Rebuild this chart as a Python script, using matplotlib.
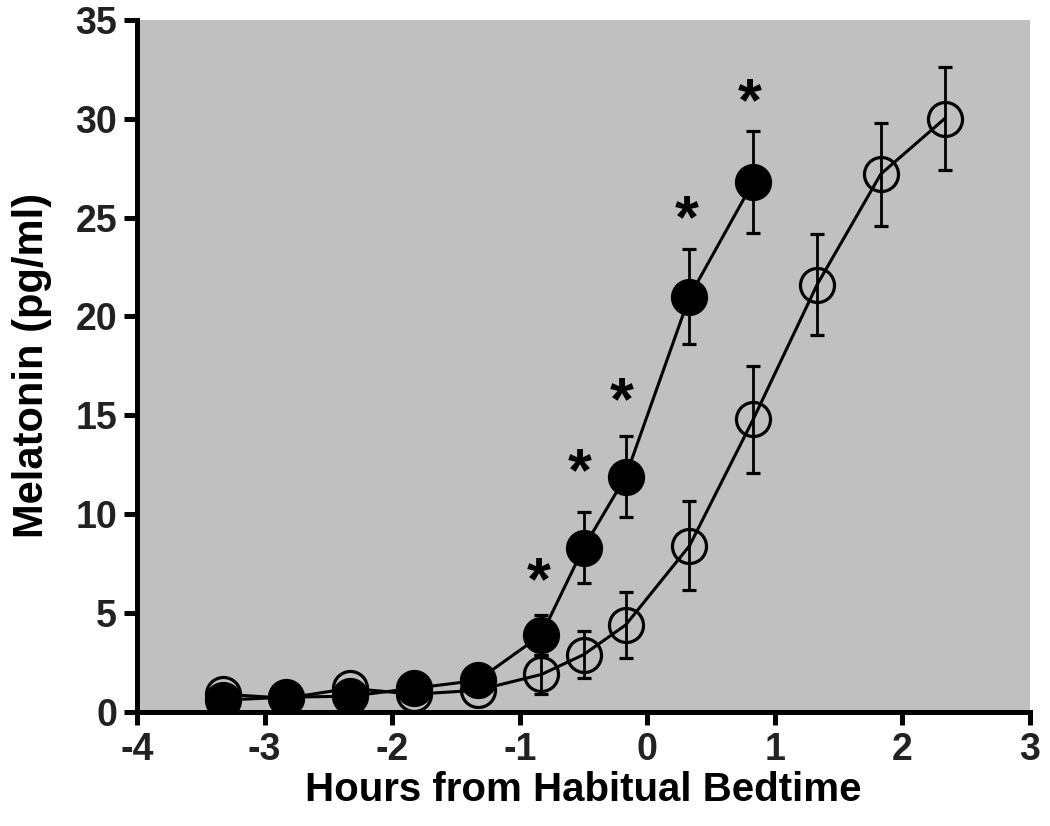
import matplotlib.pyplot as plt
import numpy as np

# hours from habitual bedtime
hours_filled = [-3.33, -2.83, -2.33, -1.83, -1.33, -0.83, -0.5, -0.17, 0.33, 0.83]
mel_filled = [0.6, 0.75, 0.8, 1.2, 1.6, 3.9, 8.3, 11.9, 21.0, 26.8]
err_filled = [0.3, 0.3, 0.3, 0.3, 0.4, 1.0, 1.8, 2.05, 2.4, 2.6]

hours_open = [-3.33, -2.83, -2.33, -1.83, -1.33, -0.83, -0.5, -0.17, 0.33, 0.83, 1.33, 1.83, 2.33]
mel_open = [0.9, 0.7, 1.2, 0.9, 1.1, 1.9, 2.9, 4.4, 8.4, 14.8, 21.6, 27.2, 30.0]
err_open = [0.3, 0.3, 0.3, 0.3, 0.3, 1.0, 1.2, 1.65, 2.25, 2.7, 2.55, 2.6, 2.6]

# significance stars above the filled series
star_x = [-0.85, -0.53, -0.2, 0.31, 0.8]
star_y = [6.9, 12.4, 16.0, 25.2, 31.1]

plt.rcParams['font.family'] = ['Liberation Sans', 'DejaVu Sans']
plt.rcParams['font.weight'] = 'bold'
plt.rcParams['axes.unicode_minus'] = False

fig = plt.figure(figsize=(10.5, 8.26), dpi=100)
ax = fig.add_axes([0.1305, 0.138, 0.8505, 0.838])
ax.set_facecolor('#c0c0c0')

ax.errorbar(hours_open, mel_open, yerr=err_open, color='black', lw=2.2,
            marker='o', ms=24.5, mfc='none', mec='black', mew=2.3,
            ecolor='black', elinewidth=2.0, capsize=5, capthick=2.0, zorder=2)
ax.errorbar(hours_filled, mel_filled, yerr=err_filled, color='black', lw=2.2,
            marker='o', ms=24.5, mfc='black', mec='black', mew=2.3,
            ecolor='black', elinewidth=2.0, capsize=5, capthick=2.0, zorder=3)

for sx, sy in zip(star_x, star_y):
    ax.text(sx, sy - 0.4, '*', ha='center', va='center', fontsize=44, fontweight='bold')

ax.set_xlim(-4, 3)
ax.set_ylim(0, 35)
ax.set_xticks(np.arange(-4, 4, 1))
ax.set_yticks(np.arange(0, 40, 5))

for s in ['top', 'right']:
    ax.spines[s].set_visible(False)
for s in ['left', 'bottom']:
    ax.spines[s].set_linewidth(3.6)
ax.tick_params(direction='out', length=9.5, width=3.6, labelsize=27, pad=5)
for lab in ax.get_xticklabels() + ax.get_yticklabels():
    lab.set_fontweight('bold')
    lab.set_color('#222222')

ax.set_xlabel('Hours from Habitual Bedtime', fontsize=29, fontweight='bold', labelpad=2)
ax.set_ylabel('Melatonin (pg/ml)', fontsize=30, fontweight='bold', labelpad=17)

fig.savefig('out.png', dpi=100)
